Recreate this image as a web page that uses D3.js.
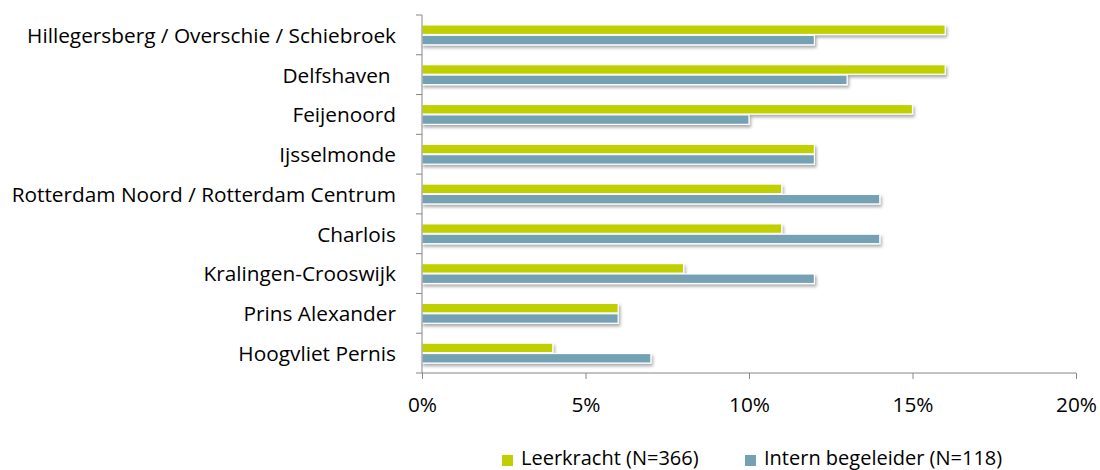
<!DOCTYPE html>
<html>
<head>
<meta charset="utf-8">
<script src="https://cdn.jsdelivr.net/npm/d3@7"></script>
<style>
  body { margin: 0; background: #fff; }
  svg text { font-family: "Open Sans", "Noto Sans", sans-serif; fill: #000; white-space: pre; }
</style>
</head>
<body>
<svg id="chart" width="1100" height="470"></svg>
<script>
var categories = [
    "Hillegersberg / Overschie / Schiebroek",
    "Delfshaven ",
    "Feijenoord",
    "Ijsselmonde",
    "Rotterdam Noord / Rotterdam Centrum",
    "Charlois",
    "Kralingen-Crooswijk",
    "Prins Alexander",
    "Hoogvliet Pernis"
];
var leerkracht = [16, 16, 15, 12, 11, 11, 8, 6, 4];
var internBegeleider = [12, 13, 10, 12, 14, 14, 12, 6, 7];
var seriesNames = ["Leerkracht (N=366)", "Intern begeleider (N=118)"];
var seriesColors = ["#c0cf00", "#75a1b5"];
var xTicks = [0, 5, 10, 15, 20];

var svg = d3.select("#chart"),
    margin = {top: 15, right: 24, bottom: 97, left: 422},
    width = 1100 - margin.left - margin.right,
    height = 470 - margin.top - margin.bottom,
    fontSize = "20.8px";

var defs = svg.append("defs");
var filt = defs.append("filter").attr("id", "shadow")
    .attr("x", "-5%").attr("y", "-50%").attr("width", "110%").attr("height", "220%");
filt.append("feDropShadow")
    .attr("dx", 1.5).attr("dy", 2.5).attr("stdDeviation", 1.6)
    .attr("flood-color", "#000").attr("flood-opacity", 0.33);

var g = svg.append("g").attr("transform", "translate(" + margin.left + "," + margin.top + ")");

var x = d3.scaleLinear().domain([0, 20]).range([0, width]);
var y = d3.scaleBand().domain(categories).range([0, height]).paddingInner(0.5).paddingOuter(0.25);
var y1 = d3.scaleBand().domain([0, 1]).range([0, y.bandwidth()]).paddingInner(0.08);

var rows = categories.map(function(c, i) {
    return {cat: c, vals: [leerkracht[i], internBegeleider[i]]};
});

var row = g.selectAll(".row").data(rows).enter().append("g")
    .attr("class", "row")
    .attr("transform", function(d) { return "translate(0," + y(d.cat) + ")"; });

row.selectAll("rect").data(function(d) { return d.vals; }).enter().append("rect")
    .attr("x", 0)
    .attr("y", function(d, i) { return y1(i); })
    .attr("width", function(d) { return x(d); })
    .attr("height", y1.bandwidth())
    .attr("fill", function(d, i) { return seriesColors[i]; })
    .attr("stroke", "#fff")
    .attr("stroke-width", 1.2)
    .attr("filter", "url(#shadow)");

// y axis: ticks between categories
var yStep = height / categories.length;
var yAxisG = g.append("g").attr("class", "y-axis");
yAxisG.append("line").attr("x1", 0).attr("x2", 0).attr("y1", 0).attr("y2", height)
    .attr("stroke", "#868686").attr("stroke-width", 1);
yAxisG.selectAll(".tick").data(d3.range(categories.length + 1)).enter().append("line")
    .attr("x1", -6).attr("x2", 0)
    .attr("y1", function(d) { return d * yStep; })
    .attr("y2", function(d) { return d * yStep; })
    .attr("stroke", "#868686");
yAxisG.selectAll(".lbl").data(categories).enter().append("text")
    .attr("x", -26)
    .attr("y", function(d) { return y(d) + y.bandwidth() / 2; })
    .attr("dy", "0.38em")
    .attr("text-anchor", "end")
    .style("font-size", fontSize)
    .text(function(d) { return d; });

// x axis
var xAxis = g.append("g").attr("transform", "translate(0," + height + ")")
    .call(d3.axisBottom(x).tickValues(xTicks).tickSize(6).tickPadding(18)
        .tickFormat(function(d) { return d + "%"; }));
xAxis.select(".domain").attr("stroke", "#868686").attr("d", "M0,0H" + width);
xAxis.selectAll(".tick line").attr("stroke", "#868686");
xAxis.selectAll(".tick text").style("font-size", fontSize).style("font-family", null);

// legend
var legend = svg.append("g").attr("transform", "translate(502,455)");
var legendX = [0, 243];
seriesNames.forEach(function(name, i) {
    var lg = legend.append("g").attr("transform", "translate(" + legendX[i] + ",0)");
    lg.append("rect").attr("width", 11).attr("height", 11).attr("fill", seriesColors[i]);
    lg.append("text").attr("x", 19).attr("y", 10)
        .style("font-size", "20px").text(name);
});
</script>
</body>
</html>
